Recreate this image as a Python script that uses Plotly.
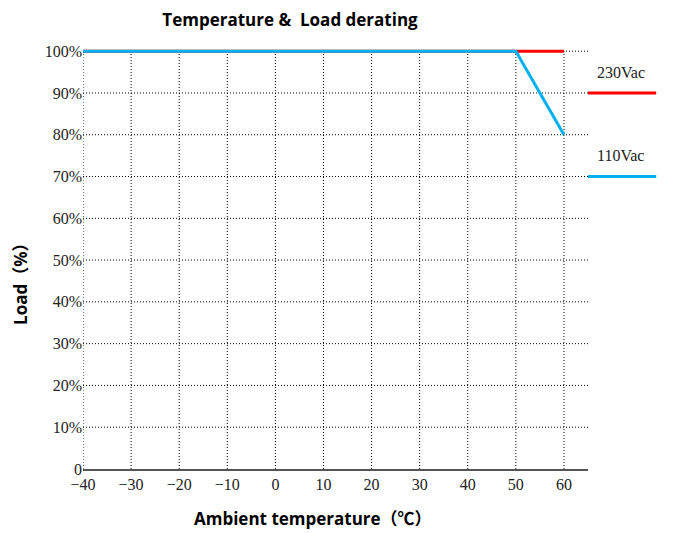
import plotly.graph_objects as go

temp_230 = [-40, 60]
load_230 = [100, 100]
temp_110 = [-40, 50, 60]
load_110 = [100, 100, 80]
x_ticks = [-40, -30, -20, -10, 0, 10, 20, 30, 40, 50, 60]
y_ticks = [0, 10, 20, 30, 40, 50, 60, 70, 80, 90, 100]
y_labels = ["0"] + [f"{v}%" for v in y_ticks[1:]]

RED = "#FF0000"
BLUE = "#00B0F0"
# page body has an 8px margin; figure sized to fit the window
OFF = 8
W, H = 684 - OFF, 533 - OFF
L, R, T, B = 83 - OFF, 96, 46.5 - OFF, 63.5
PW, PH = W - L - R, H - T - B

fig = go.Figure()
fig.add_trace(go.Scatter(x=temp_230, y=load_230, mode="lines", name="230Vac",
                         line=dict(color=RED, width=3)))
fig.add_trace(go.Scatter(x=temp_110, y=load_110, mode="lines", name="110Vac",
                         line=dict(color=BLUE, width=3)))

sans = "Open Sans, Noto Sans CJK SC"
serif = "Liberation Serif, DejaVu Serif"
DOT = "1px,2px"
CJK = "<span style='font-family:Noto Sans CJK SC'>{}</span>"

# vertical dotted gridlines
for xv in x_ticks:
    fig.add_shape(type="line", xref="x", yref="y", x0=xv, x1=xv, y0=0, y1=100,
                  line=dict(color="black", width=1, dash=DOT), layer="below")
# horizontal dotted gridlines
for yv in y_ticks[1:]:
    fig.add_shape(type="line", xref="paper", yref="y", x0=0, x1=1, y0=yv, y1=yv,
                  line=dict(color="black", width=1, dash=DOT), layer="below")

# legend on right
legend_items = [("230Vac", RED, 90), ("110Vac", BLUE, 70)]
for label, color, yv in legend_items:
    fig.add_shape(type="line", xref="paper", yref="y", x0=1.0, x1=1.135, y0=yv, y1=yv,
                  line=dict(color=color, width=3))
    fig.add_annotation(text=label, xref="paper", yref="y", x=1.065, y=yv + 5,
                       showarrow=False, font=dict(family=serif, size=16, color="#222"),
                       xanchor="center", yanchor="middle")

# axis titles
xtitle = "<b>Ambient temperature" + CJK.format("（") + "℃" + CJK.format("）") + "</b>"
ytitle = "<b>Load" + CJK.format("（") + "%" + CJK.format("）") + "</b>"
fig.add_annotation(text=xtitle, xref="paper", yref="paper",
                   x=(313 - 83) / PW, y=-B / PH,
                   xanchor="center", yanchor="bottom", showarrow=False,
                   font=dict(family=sans, size=17, color="black"))
fig.add_annotation(text=ytitle, xref="paper", yref="paper",
                   x=-(83 - 20) / PW, y=(469.5 - 280) / PH,
                   xanchor="center", yanchor="middle", showarrow=False, textangle=-90,
                   font=dict(family=sans, size=17, color="black"))

fig.update_layout(
    width=W, height=H,
    margin=dict(l=L, r=R, t=T, b=B, autoexpand=False),
    paper_bgcolor="white", plot_bgcolor="white",
    showlegend=False,
    title=dict(text="<b>Temperature &  Load derating</b>", x=(290 - OFF) / W, xanchor="center",
               y=1 - (20 - OFF) / H, yanchor="middle", font=dict(family=sans, size=17, color="black")),
    xaxis=dict(range=[-40, 65], tickvals=x_ticks, showgrid=False, zeroline=False,
               showline=True, linecolor="#555", linewidth=1.5, ticks="", automargin=False,
               tickfont=dict(family=serif, size=16, color="#222")),
    yaxis=dict(range=[0, 101], tickvals=y_ticks, ticktext=y_labels, showgrid=False,
               zeroline=False, showline=False, ticks="", automargin=False,
               tickfont=dict(family=serif, size=16, color="#222")),
)

fig.write_html("out.html")
